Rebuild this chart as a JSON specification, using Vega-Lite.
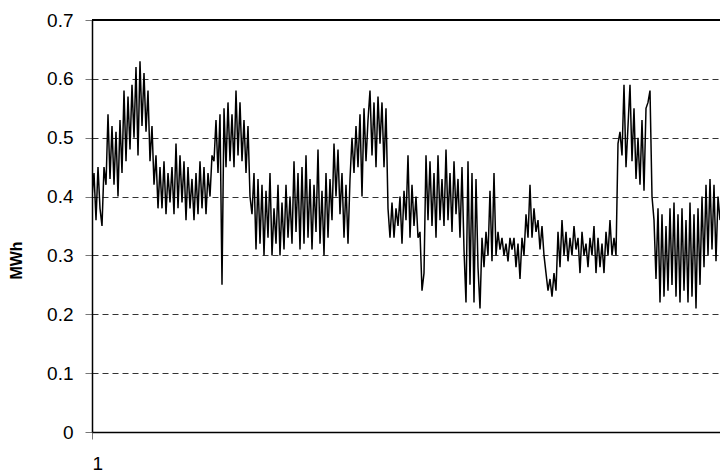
{
  "$schema": "https://vega.github.io/schema/vega-lite/v6.json",
  "width": 628,
  "height": 412,
  "autosize": {"type": "none"},
  "padding": {"left": 92, "top": 20, "right": 0, "bottom": 41},
  "config": {"view": {"stroke": null}, "font": "Liberation Sans", "background": "white"},
  "data": {"values": [
    {"t":1,"v":0.40},{"t":2,"v":0.44},{"t":3,"v":0.36},{"t":4,"v":0.45},{"t":5,"v":0.38},
    {"t":6,"v":0.35},{"t":7,"v":0.45},{"t":8,"v":0.42},{"t":9,"v":0.54},{"t":10,"v":0.43},
    {"t":11,"v":0.52},{"t":12,"v":0.42},{"t":13,"v":0.51},{"t":14,"v":0.40},{"t":15,"v":0.53},
    {"t":16,"v":0.44},{"t":17,"v":0.58},{"t":18,"v":0.46},{"t":19,"v":0.57},{"t":20,"v":0.48},
    {"t":21,"v":0.59},{"t":22,"v":0.50},{"t":23,"v":0.62},{"t":24,"v":0.47},{"t":25,"v":0.63},
    {"t":26,"v":0.52},{"t":27,"v":0.61},{"t":28,"v":0.51},{"t":29,"v":0.58},{"t":30,"v":0.46},
    {"t":31,"v":0.52},{"t":32,"v":0.42},{"t":33,"v":0.47},{"t":34,"v":0.38},{"t":35,"v":0.45},
    {"t":36,"v":0.38},{"t":37,"v":0.46},{"t":38,"v":0.37},{"t":39,"v":0.44},{"t":40,"v":0.39},
    {"t":41,"v":0.45},{"t":42,"v":0.37},{"t":43,"v":0.49},{"t":44,"v":0.38},{"t":45,"v":0.47},
    {"t":46,"v":0.39},{"t":47,"v":0.46},{"t":48,"v":0.36},{"t":49,"v":0.45},{"t":50,"v":0.38},
    {"t":51,"v":0.43},{"t":52,"v":0.36},{"t":53,"v":0.44},{"t":54,"v":0.37},{"t":55,"v":0.46},
    {"t":56,"v":0.38},{"t":57,"v":0.45},{"t":58,"v":0.37},{"t":59,"v":0.44},{"t":60,"v":0.40},
    {"t":61,"v":0.47},{"t":62,"v":0.46},{"t":63,"v":0.53},{"t":64,"v":0.44},{"t":65,"v":0.54},
    {"t":66,"v":0.25},{"t":67,"v":0.55},{"t":68,"v":0.45},{"t":69,"v":0.56},{"t":70,"v":0.46},
    {"t":71,"v":0.54},{"t":72,"v":0.45},{"t":73,"v":0.58},{"t":74,"v":0.47},{"t":75,"v":0.56},
    {"t":76,"v":0.46},{"t":77,"v":0.53},{"t":78,"v":0.44},{"t":79,"v":0.52},{"t":80,"v":0.40},
    {"t":81,"v":0.37},{"t":82,"v":0.44},{"t":83,"v":0.31},{"t":84,"v":0.43},{"t":85,"v":0.32},
    {"t":86,"v":0.42},{"t":87,"v":0.30},{"t":88,"v":0.41},{"t":89,"v":0.33},{"t":90,"v":0.44},
    {"t":91,"v":0.30},{"t":92,"v":0.38},{"t":93,"v":0.32},{"t":94,"v":0.42},{"t":95,"v":0.30},
    {"t":96,"v":0.39},{"t":97,"v":0.31},{"t":98,"v":0.42},{"t":99,"v":0.33},{"t":100,"v":0.40},
    {"t":101,"v":0.32},{"t":102,"v":0.46},{"t":103,"v":0.34},{"t":104,"v":0.44},{"t":105,"v":0.31},
    {"t":106,"v":0.45},{"t":107,"v":0.32},{"t":108,"v":0.47},{"t":109,"v":0.33},{"t":110,"v":0.43},
    {"t":111,"v":0.31},{"t":112,"v":0.42},{"t":113,"v":0.34},{"t":114,"v":0.48},{"t":115,"v":0.32},
    {"t":116,"v":0.41},{"t":117,"v":0.30},{"t":118,"v":0.44},{"t":119,"v":0.33},{"t":120,"v":0.43},
    {"t":121,"v":0.36},{"t":122,"v":0.49},{"t":123,"v":0.40},{"t":124,"v":0.48},{"t":125,"v":0.37},
    {"t":126,"v":0.44},{"t":127,"v":0.33},{"t":128,"v":0.42},{"t":129,"v":0.32},{"t":130,"v":0.43},
    {"t":131,"v":0.50},{"t":132,"v":0.44},{"t":133,"v":0.52},{"t":134,"v":0.45},{"t":135,"v":0.54},
    {"t":136,"v":0.40},{"t":137,"v":0.55},{"t":138,"v":0.46},{"t":139,"v":0.53},{"t":140,"v":0.58},
    {"t":141,"v":0.47},{"t":142,"v":0.56},{"t":143,"v":0.45},{"t":144,"v":0.57},{"t":145,"v":0.49},
    {"t":146,"v":0.56},{"t":147,"v":0.45},{"t":148,"v":0.55},{"t":149,"v":0.38},{"t":150,"v":0.33},
    {"t":151,"v":0.39},{"t":152,"v":0.33},{"t":153,"v":0.38},{"t":154,"v":0.35},{"t":155,"v":0.40},
    {"t":156,"v":0.32},{"t":157,"v":0.41},{"t":158,"v":0.36},{"t":159,"v":0.47},{"t":160,"v":0.33},
    {"t":161,"v":0.42},{"t":162,"v":0.35},{"t":163,"v":0.40},{"t":164,"v":0.33},{"t":165,"v":0.34},
    {"t":166,"v":0.24},{"t":167,"v":0.27},{"t":168,"v":0.47},{"t":169,"v":0.36},{"t":170,"v":0.46},
    {"t":171,"v":0.35},{"t":172,"v":0.44},{"t":173,"v":0.33},{"t":174,"v":0.47},{"t":175,"v":0.36},
    {"t":176,"v":0.43},{"t":177,"v":0.35},{"t":178,"v":0.48},{"t":179,"v":0.36},{"t":180,"v":0.44},
    {"t":181,"v":0.34},{"t":182,"v":0.46},{"t":183,"v":0.37},{"t":184,"v":0.43},{"t":185,"v":0.33},
    {"t":186,"v":0.45},{"t":187,"v":0.31},{"t":188,"v":0.22},{"t":189,"v":0.46},{"t":190,"v":0.25},
    {"t":191,"v":0.44},{"t":192,"v":0.22},{"t":193,"v":0.43},{"t":194,"v":0.28},{"t":195,"v":0.21},
    {"t":196,"v":0.33},{"t":197,"v":0.28},{"t":198,"v":0.34},{"t":199,"v":0.30},{"t":200,"v":0.41},
    {"t":201,"v":0.29},{"t":202,"v":0.44},{"t":203,"v":0.30},{"t":204,"v":0.34},{"t":205,"v":0.31},
    {"t":206,"v":0.33},{"t":207,"v":0.30},{"t":208,"v":0.32},{"t":209,"v":0.29},{"t":210,"v":0.33},
    {"t":211,"v":0.31},{"t":212,"v":0.33},{"t":213,"v":0.28},{"t":214,"v":0.32},{"t":215,"v":0.26},
    {"t":216,"v":0.33},{"t":217,"v":0.30},{"t":218,"v":0.37},{"t":219,"v":0.33},{"t":220,"v":0.42},
    {"t":221,"v":0.33},{"t":222,"v":0.38},{"t":223,"v":0.34},{"t":224,"v":0.36},{"t":225,"v":0.31},
    {"t":226,"v":0.35},{"t":227,"v":0.30},{"t":228,"v":0.27},{"t":229,"v":0.24},{"t":230,"v":0.26},
    {"t":231,"v":0.23},{"t":232,"v":0.27},{"t":233,"v":0.24},{"t":234,"v":0.34},{"t":235,"v":0.28},
    {"t":236,"v":0.36},{"t":237,"v":0.30},{"t":238,"v":0.34},{"t":239,"v":0.29},{"t":240,"v":0.33},
    {"t":241,"v":0.30},{"t":242,"v":0.35},{"t":243,"v":0.31},{"t":244,"v":0.33},{"t":245,"v":0.27},
    {"t":246,"v":0.34},{"t":247,"v":0.30},{"t":248,"v":0.32},{"t":249,"v":0.28},{"t":250,"v":0.33},
    {"t":251,"v":0.30},{"t":252,"v":0.35},{"t":253,"v":0.27},{"t":254,"v":0.33},{"t":255,"v":0.28},
    {"t":256,"v":0.32},{"t":257,"v":0.27},{"t":258,"v":0.34},{"t":259,"v":0.30},{"t":260,"v":0.36},
    {"t":261,"v":0.30},{"t":262,"v":0.33},{"t":263,"v":0.30},{"t":264,"v":0.49},{"t":265,"v":0.51},
    {"t":266,"v":0.47},{"t":267,"v":0.59},{"t":268,"v":0.45},{"t":269,"v":0.52},{"t":270,"v":0.59},
    {"t":271,"v":0.46},{"t":272,"v":0.55},{"t":273,"v":0.43},{"t":274,"v":0.50},{"t":275,"v":0.42},
    {"t":276,"v":0.53},{"t":277,"v":0.41},{"t":278,"v":0.55},{"t":279,"v":0.56},{"t":280,"v":0.58},
    {"t":281,"v":0.40},{"t":282,"v":0.36},{"t":283,"v":0.26},{"t":284,"v":0.38},{"t":285,"v":0.22},
    {"t":286,"v":0.37},{"t":287,"v":0.23},{"t":288,"v":0.35},{"t":289,"v":0.24},{"t":290,"v":0.38},
    {"t":291,"v":0.25},{"t":292,"v":0.39},{"t":293,"v":0.23},{"t":294,"v":0.37},{"t":295,"v":0.22},
    {"t":296,"v":0.38},{"t":297,"v":0.24},{"t":298,"v":0.36},{"t":299,"v":0.22},{"t":300,"v":0.39},
    {"t":301,"v":0.23},{"t":302,"v":0.37},{"t":303,"v":0.21},{"t":304,"v":0.38},{"t":305,"v":0.25},
    {"t":306,"v":0.40},{"t":307,"v":0.28},{"t":308,"v":0.42},{"t":309,"v":0.30},{"t":310,"v":0.43},
    {"t":311,"v":0.31},{"t":312,"v":0.42},{"t":313,"v":0.29},{"t":314,"v":0.40},{"t":315,"v":0.36}
  ]},
  "layer": [
    {
      "mark": {"type": "rule", "color": "black", "strokeWidth": 1},
      "encoding": {"y": {"datum": 0.7, "type": "quantitative"}}
    },
    {
      "mark": {"type": "line", "color": "black", "strokeWidth": 1.5, "clip": true},
      "encoding": {
        "x": {
          "field": "t", "type": "quantitative",
          "scale": {"domain": [1, 315], "nice": false, "zero": false},
          "axis": {
            "title": null, "values": [1], "grid": false,
            "domainColor": "black", "domainWidth": 1.5,
            "tickColor": "#777", "tickSize": 7,
            "labelFontSize": 19, "labelColor": "black", "labelPadding": 15,
            "labelFont": "Liberation Sans"
          }
        },
        "y": {
          "field": "v", "type": "quantitative",
          "scale": {"domain": [0, 0.7], "nice": false},
          "axis": {
            "title": "MWh", "titleFontSize": 16, "titleFontWeight": "bold",
            "titleColor": "black", "titleFont": "Liberation Sans",
            "titleAngle": -90, "titleX": -76, "titleY": 240,
            "titleAlign": "center", "titleBaseline": "middle",
            "values": [0, 0.1, 0.2, 0.3, 0.4, 0.5, 0.6, 0.7],
            "labelExpr": "datum.value == 0 ? '0' : format(datum.value, '.1f')",
            "grid": true, "gridDash": [6, 4], "gridColor": "#333", "gridWidth": 1,
            "domainColor": "black", "domainWidth": 1.5,
            "tickColor": "#777", "tickSize": 7,
            "labelFontSize": 19, "labelColor": "black", "labelPadding": 12,
            "labelFont": "Liberation Sans"
          }
        }
      }
    }
  ]
}
